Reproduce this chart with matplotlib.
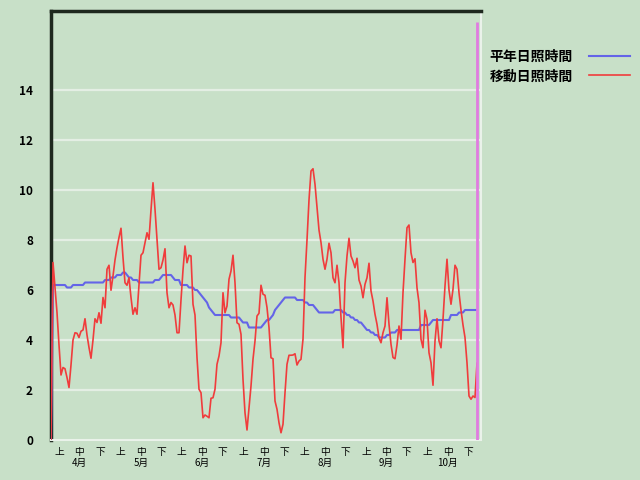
import matplotlib
matplotlib.use("Agg")
import matplotlib.pyplot as plt
import numpy as np

plt.rcParams['font.family'] = ['Noto Sans CJK JP', 'DejaVu Sans']

# ---- data ----
normal_sun = [
    0, 6.2, 6.2, 6.2, 6.2, 6.2, 6.2, 6.2, 6.1, 6.1,
    6.1, 6.2, 6.2, 6.2, 6.2, 6.2, 6.2, 6.3, 6.3, 6.3,
    6.3, 6.3, 6.3, 6.3, 6.3, 6.3, 6.3, 6.4, 6.4, 6.4,
    6.5, 6.5, 6.5, 6.6, 6.6, 6.6, 6.7, 6.7, 6.6, 6.5,
    6.5, 6.4, 6.4, 6.4, 6.3, 6.3, 6.3, 6.3, 6.3, 6.3,
    6.3, 6.3, 6.4, 6.4, 6.4, 6.5, 6.6, 6.6, 6.6, 6.6,
    6.6, 6.5, 6.4, 6.4, 6.4, 6.2, 6.2, 6.2, 6.2, 6.1,
    6.1, 6.1, 6.0, 6.0, 5.9, 5.8, 5.7, 5.6, 5.5, 5.3,
    5.2, 5.1, 5.0, 5.0, 5.0, 5.0, 5.0, 5.0, 5.0, 5.0,
    4.9, 4.9, 4.9, 4.9, 4.9, 4.8, 4.7, 4.7, 4.7, 4.5,
    4.5, 4.5, 4.5, 4.5, 4.5, 4.5, 4.6, 4.7, 4.8, 4.8,
    4.9, 5.0, 5.2, 5.3, 5.4, 5.5, 5.6, 5.7, 5.7, 5.7,
    5.7, 5.7, 5.7, 5.6, 5.6, 5.6, 5.6, 5.5, 5.5, 5.4,
    5.4, 5.4, 5.3, 5.2, 5.1, 5.1, 5.1, 5.1, 5.1, 5.1,
    5.1, 5.1, 5.2, 5.2, 5.2, 5.2, 5.1, 5.1, 5.0, 5.0,
    4.9, 4.9, 4.8, 4.8, 4.7, 4.7, 4.6, 4.5, 4.4, 4.4,
    4.3, 4.3, 4.2, 4.2, 4.1, 4.1, 4.1, 4.1, 4.2, 4.2,
    4.3, 4.3, 4.3, 4.4, 4.4, 4.4, 4.4, 4.4, 4.4, 4.4,
    4.4, 4.4, 4.4, 4.4, 4.4, 4.6, 4.6, 4.6, 4.6, 4.6,
    4.7, 4.8, 4.8, 4.8, 4.8, 4.8, 4.8, 4.8, 4.8, 4.8,
    5.0, 5.0, 5.0, 5.0, 5.1, 5.1, 5.1, 5.2, 5.2, 5.2,
    5.2, 5.2, 5.2, 5.2,
]

moving_sun = [
    0, 7.1, 6.1, 5.1, 3.8, 2.6, 2.9, 2.85, 2.5, 2.1,
    3.0, 4.0, 4.29, 4.27, 4.1, 4.35, 4.4, 4.85, 4.2, 3.7,
    3.27, 4.0, 4.85, 4.7, 5.09, 4.67, 5.7, 5.29, 6.83, 6.99,
    5.99, 6.56, 7.2, 7.69, 8.1, 8.47, 7.3, 6.29, 6.19, 6.49,
    5.7, 5.03, 5.29, 5.03, 6.2, 7.39, 7.49, 7.9, 8.29, 8.03,
    9.2, 10.29, 9.23, 8.0, 6.83, 6.89, 7.2, 7.65, 5.89, 5.29,
    5.5, 5.4, 5.0, 4.29, 4.29, 5.6, 6.8, 7.76, 7.09, 7.39,
    7.36, 5.43, 5.0, 3.3, 2.03, 1.89, 0.89, 1.0, 0.95, 0.89,
    1.67, 1.69, 2.03, 3.03, 3.36, 3.89, 5.89, 5.09, 5.36, 6.43,
    6.76, 7.39, 6.29, 4.69, 4.63, 4.23, 2.43, 1.09, 0.4, 1.29,
    2.16, 3.23, 3.96, 4.96, 5.07, 6.19, 5.83, 5.79, 5.3, 4.5,
    3.29, 3.25, 1.56, 1.23, 0.69, 0.29, 0.63, 1.89, 3.03, 3.39,
    3.39, 3.4, 3.45, 3.0, 3.16, 3.23, 4.03, 6.5, 8.0, 9.6,
    10.76, 10.85, 10.23, 9.3, 8.4, 7.9, 7.23, 6.83, 7.23, 7.87,
    7.49, 6.49, 6.29, 6.99, 6.29, 4.9, 3.69, 6.29, 7.36, 8.07,
    7.36, 7.16, 6.89, 7.27, 6.4, 6.16, 5.69, 6.23, 6.49, 7.07,
    5.96, 5.56, 5.03, 4.63, 4.09, 3.89, 4.29, 4.56, 5.69, 4.63,
    3.83, 3.3, 3.25, 3.8, 4.56, 4.03, 5.89, 7.23, 8.49, 8.6,
    7.49, 7.1, 7.25, 6.09, 5.49, 4.03, 3.69, 5.19, 4.83, 3.49,
    3.09, 2.19, 3.96, 4.85, 3.96, 3.69, 4.83, 6.16, 7.23, 6.0,
    5.43, 6.03, 6.99, 6.83, 5.89, 5.2, 4.6, 4.1, 3.09, 1.76,
    1.63, 1.76, 1.7, 3.07,
]

months = ["4月", "5月", "6月", "7月", "8月", "9月", "10月"]
dekads = ["上", "中", "下"]
y_ticks = [0, 2, 4, 6, 8, 10, 12, 14]
series_labels = ["平年日照時間", "移動日照時間"]

# ---- figure ----
bg = "#C8E0C8"
fig = plt.figure(figsize=(6.4, 4.8), dpi=100, facecolor=bg)
ax = fig.add_axes([51/640, 1-440/480, 430/640, 429/480])
ax.set_facecolor(bg)

days = np.arange(len(moving_sun))
for yv in y_ticks[1:]:
    ax.axhline(yv, color="#E4EEE4", lw=1.6, zorder=1)

l1, = ax.plot(days, normal_sun, color="#6464E8", lw=1.5, zorder=3)
l2, = ax.plot(days, moving_sun, color="#F03C3C", lw=1.2, zorder=4)
ax.vlines(days[-1], 0, 16.73, color="#E07CE0", lw=2, zorder=5)

ax.set_xlim(0, 215)
ax.set_ylim(0, 17.16)

ax.set_yticks(y_ticks)
ax.set_yticklabels([str(v) for v in y_ticks], fontsize=8.5, fontweight="bold")
ax.tick_params(axis="y", length=0, pad=13)

tick_pos = []
tick_lab = []
k = 0
for m in months:
    for j, d in enumerate(dekads):
        tick_pos.append(4 + 10.23 * k)
        tick_lab.append(d + ("\n" + m if j == 1 else ""))
        k += 1
ax.set_xticks(tick_pos)
ax.set_xticklabels(tick_lab, fontsize=7, linespacing=1.15)
ax.tick_params(axis="x", length=0, pad=5)

for s in ["left", "top"]:
    ax.spines[s].set_color("#1E281E")
    ax.spines[s].set_linewidth(2.5)
for s in ["right", "bottom"]:
    ax.spines[s].set_color("#EAF2EA")
    ax.spines[s].set_linewidth(1.5)

leg = ax.legend([l1, l2], series_labels, loc="upper left",
                bbox_to_anchor=(477/640, 1-37/480), bbox_transform=fig.transFigure,
                markerfirst=False, frameon=False, handlelength=2.9,
                handletextpad=1.2, labelspacing=0.42,
                prop={"family": ['Noto Sans CJK JP', 'DejaVu Sans'], "size": 10, "weight": "bold"})

fig.savefig("out.png", dpi=100, facecolor=bg)
